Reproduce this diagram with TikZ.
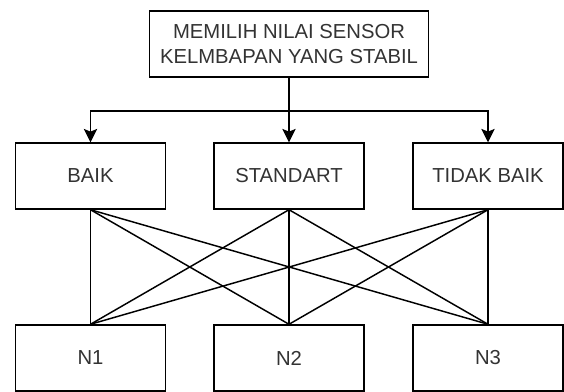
\documentclass[tikz,border=0pt]{standalone}
\usepackage{fontspec}
\setmainfont{Liberation Sans}
\usepackage{xcolor}
\usepackage{tikz}
\usetikzlibrary{arrows.meta,calc}
\definecolor{teks}{HTML}{333333}
\tikzset{
  kotak/.style = {
    draw, line width=1.1pt, text=teks,
    minimum width=112.5pt, minimum height=49.5pt,
    inner sep=0pt, align=center,
    font=\fontsize{15.2}{19}\selectfont
  },
  garis/.style = {line width=1.1pt},
  panah/.style = {garis, -{Stealth[length=10pt,width=10pt,inset=2pt]}}
}

\begin{document}
\begin{tikzpicture}[x=0.75pt,y=-0.75pt]

  \useasboundingbox (0,0) rectangle (564,392);

  \node[kotak, minimum width=209pt] (pilih) at (289,44)
    {MEMILIH NILAI SENSOR\\KELMBAPAN YANG STABIL};

  \node[kotak] (baik)      at (90.5,176)  {BAIK};
  \node[kotak] (standart)  at (289,176)   {STANDART};
  \node[kotak] (tidakbaik) at (488,176)   {TIDAK BAIK};

  \node[kotak] (n1) at (90.5,358) {N1};
  \node[kotak] (n2) at (289,358)  {N2};
  \node[kotak] (n3) at (488,358)  {N3};

  % cabang ke tiga kategori
  \coordinate (cabang) at (289,111);
  \draw[garis] (pilih.south) -- (cabang);
  \draw[panah] (cabang) -| (baik.north);
  \draw[panah] (cabang) -- (standart.north);
  \draw[panah] (cabang) -| (tidakbaik.north);

  \foreach \a in {baik,standart,tidakbaik}
    \foreach \b in {n1,n2,n3}{
       \draw[garis] (\a.south) -- (\b.north);
     }

\end{tikzpicture}
\end{document}
